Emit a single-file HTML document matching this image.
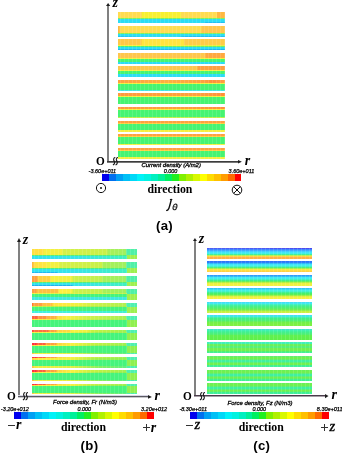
<!DOCTYPE html>
<html><head><meta charset="utf-8"><style>
html,body{margin:0;padding:0;background:#fff;}
body{width:342px;height:454px;position:relative;overflow:hidden;font-family:"Liberation Sans",sans-serif;}
body>div,body>svg{position:absolute;}
#wrap{position:absolute;left:0;top:0;width:342px;height:454px;background:#fff;will-change:transform;}
#wrap>div,#wrap>svg{position:absolute;}
</style></head><body><div id="wrap">
<div style="left:118.3px;top:12.0px;width:106.6px;height:11.0px;overflow:hidden"><div style="position:absolute;left:0;top:0px;width:106.6px;height:6.4px;background:linear-gradient(to right,#ffdc50 0px,#ffdc50 24px,#f8f030 24.5px,#f8f030 63px,#ffdc50 63.5px,#ffdc50 98.5px,#ffb840 99px)"></div><div style="position:absolute;left:0;top:6.4px;width:106.6px;height:1.0px;background:#80f060"></div><div style="position:absolute;left:0;top:7.4px;width:106.6px;height:2.5999999999999996px;background:#2cdcf4"></div><div style="position:absolute;left:0;top:10px;width:106.6px;height:1px;background:linear-gradient(to right,#2cdcf4 0px,#2cdcf4 85px,#20c0f2 88px)"></div><div style="position:absolute;left:0;top:0;width:106.6px;height:11.0px;background:repeating-linear-gradient(to right, rgba(255,255,255,0) 0px, rgba(255,255,255,0) 2.3px, rgba(255,255,255,0.12) 2.3px, rgba(255,255,255,0.12) 3.3px, rgba(255,255,255,0) 3.3px, rgba(255,255,255,0) 3.97px)"></div></div>
<div style="left:118.3px;top:25.6px;width:106.6px;height:11.0px;overflow:hidden"><div style="position:absolute;left:0;top:0px;width:106.6px;height:7.0px;background:linear-gradient(to right,#ffb040 0px,#ffdc50 3px,#ffdc50 83px,#ffc64c 84px)"></div><div style="position:absolute;left:0;top:7.0px;width:106.6px;height:1.0px;background:#80f060"></div><div style="position:absolute;left:0;top:8.0px;width:106.6px;height:2.0px;background:#2cdcf4"></div><div style="position:absolute;left:0;top:10px;width:106.6px;height:1px;background:linear-gradient(to right,#20c0f2 0px,#2cdcf4 30px,#2cdcf4 60px,#20c0f2 66px)"></div><div style="position:absolute;left:0;top:0;width:106.6px;height:11.0px;background:repeating-linear-gradient(to right, rgba(255,255,255,0) 0px, rgba(255,255,255,0) 2.3px, rgba(255,255,255,0.12) 2.3px, rgba(255,255,255,0.12) 3.3px, rgba(255,255,255,0) 3.3px, rgba(255,255,255,0) 3.97px)"></div></div>
<div style="left:118.3px;top:39.3px;width:106.6px;height:11.0px;overflow:hidden"><div style="position:absolute;left:0;top:0px;width:106.6px;height:5.7px;background:linear-gradient(to right,#ffc848 0px,#ffc848 23px,#ffe440 24.5px,#ffe440 66px,#ffcc48 66.5px)"></div><div style="position:absolute;left:0;top:5.7px;width:106.6px;height:0.8999999999999995px;background:linear-gradient(to right,#f8f040 0px,#f8f040 60px,#e8f040 80px)"></div><div style="position:absolute;left:0;top:6.6px;width:106.6px;height:1.3000000000000007px;background:linear-gradient(to right,#40f080 0px,#50f070 30px,#70f060 60px)"></div><div style="position:absolute;left:0;top:7.9px;width:106.6px;height:1.799999999999999px;background:#2cdcf4"></div><div style="position:absolute;left:0;top:9.7px;width:106.6px;height:1.3000000000000007px;background:linear-gradient(to right,#20b4f4 0px,#20b8f4 60px,#20b0f0 106.6px)"></div><div style="position:absolute;left:0;top:0;width:106.6px;height:11.0px;background:repeating-linear-gradient(to right, rgba(255,255,255,0) 0px, rgba(255,255,255,0) 2.3px, rgba(255,255,255,0.12) 2.3px, rgba(255,255,255,0.12) 3.3px, rgba(255,255,255,0) 3.3px, rgba(255,255,255,0) 3.97px)"></div></div>
<div style="left:118.3px;top:52.8px;width:106.6px;height:11.0px;overflow:hidden"><div style="position:absolute;left:0;top:0px;width:106.6px;height:5.0px;background:linear-gradient(to right,#ffc64c 0px,#ffc64c 87px,#ffa840 88px)"></div><div style="position:absolute;left:0;top:5.0px;width:106.6px;height:1.0px;background:#f4f040"></div><div style="position:absolute;left:0;top:6.0px;width:106.6px;height:3.0px;background:#46f472"></div><div style="position:absolute;left:0;top:9.0px;width:106.6px;height:2.0px;background:#2cdcf4"></div><div style="position:absolute;left:0;top:0;width:106.6px;height:11.0px;background:repeating-linear-gradient(to right, rgba(255,255,255,0) 0px, rgba(255,255,255,0) 2.3px, rgba(255,255,255,0.12) 2.3px, rgba(255,255,255,0.12) 3.3px, rgba(255,255,255,0) 3.3px, rgba(255,255,255,0) 3.97px)"></div></div>
<div style="left:118.3px;top:66.1px;width:106.6px;height:11.0px;overflow:hidden"><div style="position:absolute;left:0;top:0px;width:106.6px;height:4.4px;background:linear-gradient(to right,#ffc64c 0px,#ffc64c 79px,#ffa040 80px)"></div><div style="position:absolute;left:0;top:4.4px;width:106.6px;height:1.0px;background:#f4f040"></div><div style="position:absolute;left:0;top:5.4px;width:106.6px;height:2.799999999999999px;background:#46f472"></div><div style="position:absolute;left:0;top:8.2px;width:106.6px;height:2.8000000000000007px;background:#2cdcf4"></div><div style="position:absolute;left:0;top:0;width:106.6px;height:11.0px;background:repeating-linear-gradient(to right, rgba(255,255,255,0) 0px, rgba(255,255,255,0) 2.3px, rgba(255,255,255,0.12) 2.3px, rgba(255,255,255,0.12) 3.3px, rgba(255,255,255,0) 3.3px, rgba(255,255,255,0) 3.97px)"></div></div>
<div style="left:118.3px;top:79.85px;width:106.6px;height:11.0px;overflow:hidden"><div style="position:absolute;left:0;top:0px;width:106.6px;height:3.6px;background:linear-gradient(to right,#ffa040 0px,#ffb040 50px,#ffa040 86px,#ff9038 94px,#ffa040 106.6px)"></div><div style="position:absolute;left:0;top:3.6px;width:106.6px;height:0.9999999999999996px;background:#f4f040"></div><div style="position:absolute;left:0;top:4.6px;width:106.6px;height:5.6px;background:#46f472"></div><div style="position:absolute;left:0;top:10.2px;width:106.6px;height:0.8000000000000007px;background:#40e8e0"></div><div style="position:absolute;left:0;top:0;width:106.6px;height:11.0px;background:repeating-linear-gradient(to right, rgba(255,255,255,0) 0px, rgba(255,255,255,0) 2.3px, rgba(255,255,255,0.12) 2.3px, rgba(255,255,255,0.12) 3.3px, rgba(255,255,255,0) 3.3px, rgba(255,255,255,0) 3.97px)"></div></div>
<div style="left:118.3px;top:93.4px;width:106.6px;height:11.0px;overflow:hidden"><div style="position:absolute;left:0;top:0px;width:106.6px;height:2.8px;background:linear-gradient(to right,#ff9a40 0px,#ffa038 50px,#ffa040 80px,#ff9038 106.6px)"></div><div style="position:absolute;left:0;top:2.8px;width:106.6px;height:1.0px;background:#f4f040"></div><div style="position:absolute;left:0;top:3.8px;width:106.6px;height:6.500000000000001px;background:#46f472"></div><div style="position:absolute;left:0;top:10.3px;width:106.6px;height:0.6999999999999993px;background:#a0f050"></div><div style="position:absolute;left:0;top:0;width:106.6px;height:11.0px;background:repeating-linear-gradient(to right, rgba(255,255,255,0) 0px, rgba(255,255,255,0) 2.3px, rgba(255,255,255,0.12) 2.3px, rgba(255,255,255,0.12) 3.3px, rgba(255,255,255,0) 3.3px, rgba(255,255,255,0) 3.97px)"></div></div>
<div style="left:118.3px;top:107.15px;width:106.6px;height:11.0px;overflow:hidden"><div style="position:absolute;left:0;top:0px;width:106.6px;height:2.2px;background:linear-gradient(to right,#ff9a40 0px,#ffa038 60px,#ff9038 106.6px)"></div><div style="position:absolute;left:0;top:2.2px;width:106.6px;height:1.0px;background:#f4f040"></div><div style="position:absolute;left:0;top:3.2px;width:106.6px;height:6.7px;background:#46f472"></div><div style="position:absolute;left:0;top:9.9px;width:106.6px;height:1.0999999999999996px;background:#c0f048"></div><div style="position:absolute;left:0;top:0;width:106.6px;height:11.0px;background:repeating-linear-gradient(to right, rgba(255,255,255,0) 0px, rgba(255,255,255,0) 2.3px, rgba(255,255,255,0.12) 2.3px, rgba(255,255,255,0.12) 3.3px, rgba(255,255,255,0) 3.3px, rgba(255,255,255,0) 3.97px)"></div></div>
<div style="left:118.3px;top:120.9px;width:106.6px;height:11.0px;overflow:hidden"><div style="position:absolute;left:0;top:0px;width:106.6px;height:2.0px;background:#ffa040"></div><div style="position:absolute;left:0;top:2.0px;width:106.6px;height:1.0px;background:#ffd040"></div><div style="position:absolute;left:0;top:3.0px;width:106.6px;height:6.6px;background:#46f472"></div><div style="position:absolute;left:0;top:9.6px;width:106.6px;height:1.4000000000000004px;background:#f4f040"></div><div style="position:absolute;left:0;top:0;width:106.6px;height:11.0px;background:repeating-linear-gradient(to right, rgba(255,255,255,0) 0px, rgba(255,255,255,0) 2.3px, rgba(255,255,255,0.12) 2.3px, rgba(255,255,255,0.12) 3.3px, rgba(255,255,255,0) 3.3px, rgba(255,255,255,0) 3.97px)"></div></div>
<div style="left:118.3px;top:134.35px;width:106.6px;height:11.0px;overflow:hidden"><div style="position:absolute;left:0;top:0px;width:106.6px;height:1.8px;background:#ffa040"></div><div style="position:absolute;left:0;top:1.8px;width:106.6px;height:0.9999999999999998px;background:#ffd040"></div><div style="position:absolute;left:0;top:2.8px;width:106.6px;height:6.3999999999999995px;background:#46f472"></div><div style="position:absolute;left:0;top:9.2px;width:106.6px;height:1.4000000000000004px;background:#f4f040"></div><div style="position:absolute;left:0;top:0;width:106.6px;height:11.0px;background:repeating-linear-gradient(to right, rgba(255,255,255,0) 0px, rgba(255,255,255,0) 2.3px, rgba(255,255,255,0.12) 2.3px, rgba(255,255,255,0.12) 3.3px, rgba(255,255,255,0) 3.3px, rgba(255,255,255,0) 3.97px)"></div></div>
<div style="left:118.3px;top:147.6px;width:106.6px;height:11.0px;overflow:hidden"><div style="position:absolute;left:0;top:0px;width:106.6px;height:2.0px;background:#ffa040"></div><div style="position:absolute;left:0;top:2.0px;width:106.6px;height:1.0px;background:#ffd040"></div><div style="position:absolute;left:0;top:3.0px;width:106.6px;height:6.6px;background:#46f472"></div><div style="position:absolute;left:0;top:9.6px;width:106.6px;height:1.4000000000000004px;background:#f4f040"></div><div style="position:absolute;left:0;top:0;width:106.6px;height:11.0px;background:repeating-linear-gradient(to right, rgba(255,255,255,0) 0px, rgba(255,255,255,0) 2.3px, rgba(255,255,255,0.12) 2.3px, rgba(255,255,255,0.12) 3.3px, rgba(255,255,255,0) 3.3px, rgba(255,255,255,0) 3.97px)"></div></div>
<div style="left:107px;top:5.5px;width:2px;height:156.5px;background:#808080"></div>
<svg style="left:104.80000000000001px;top:1.9px" width="6.2" height="5.0" viewBox="104.80000000000001 1.9 6.2 5.0"><polygon points="107.9,2.9 110.0,5.9 105.80000000000001,5.9" fill="#1e1e1e"/></svg>
<div style="left:107px;top:161px;width:131.4px;height:1px;background:#3c3c3c"></div>
<div style="left:107px;top:162px;width:131.4px;height:1px;background:#767676"></div>
<svg style="left:237.4px;top:158.85px" width="5.900000000000006" height="5.6" viewBox="237.4 158.85 5.900000000000006 5.6"><polygon points="238.4,159.85 242.3,161.65 238.4,163.45000000000002" fill="#1e1e1e"/></svg>
<svg style="left:112.2px;top:157.4px" width="7" height="9" viewBox="0 0 7 9"><path d="M3.3 0.5 C1.5 0.7 1.3 2.7 2.1 3.9 C2.9 5.1 2.9 7.3 0.9 7.9" fill="none" stroke="#1a1a1a" stroke-width="1.1"/><path d="M3.3 0.5 C1.5 0.7 1.3 2.7 2.1 3.9 C2.9 5.1 2.9 7.3 0.9 7.9" transform="translate(2.7 0)" fill="none" stroke="#1a1a1a" stroke-width="1.1"/></svg>
<div style="left:96.2px;top:155.4px;font-family:&quot;Liberation Serif&quot;,serif;font-size:12.5px;font-weight:bold;font-style:normal;color:#000;white-space:nowrap;line-height:1;transform:scaleX(0.9);transform-origin:0 0">O</div>
<div style="left:112.6px;top:-4.1px;font-family:&quot;Liberation Serif&quot;,serif;font-size:14px;font-weight:bold;font-style:italic;color:#000;white-space:nowrap;line-height:1;">z</div>
<div style="left:244.8px;top:154.0px;font-family:&quot;Liberation Serif&quot;,serif;font-size:14px;font-weight:bold;font-style:italic;color:#000;white-space:nowrap;line-height:1;">r</div>
<div style="left:101.9px;top:174.4px;width:139.5px;height:6.8px;background:linear-gradient(to right,#0000ee 0.00px 6.97px,#0070f0 6.97px 13.95px,#00a0f4 13.95px 20.92px,#00c0f6 20.92px 27.90px,#00d8f8 27.90px 34.88px,#00f2f8 34.88px 41.85px,#00f2e0 41.85px 48.82px,#00f0c0 48.82px 55.80px,#00f098 55.80px 62.77px,#00f060 62.77px 69.75px,#20f020 69.75px 76.72px,#80f000 76.72px 83.70px,#b0f000 83.70px 90.67px,#d8f800 90.67px 97.65px,#ffff00 97.65px 104.62px,#ffdc00 104.62px 111.60px,#ffc000 111.60px 118.57px,#ff9c00 118.57px 125.55px,#ff6a00 125.55px 132.53px,#ff0000 132.53px 139.50px)"></div>
<div style="left:141.6px;top:163.0px;font-family:&quot;Liberation Sans&quot;,sans-serif;font-size:5.9px;font-weight:normal;font-style:italic;color:#000;white-space:nowrap;line-height:1;-webkit-text-stroke:0.3px #000">Current density (A/m2)</div>
<div style="left:163.8px;top:168.9px;font-family:&quot;Liberation Sans&quot;,sans-serif;font-size:5.4px;font-weight:normal;font-style:italic;color:#000;white-space:nowrap;line-height:1;-webkit-text-stroke:0.25px #000">0.000</div>
<div style="left:88.6px;top:169.3px;font-family:&quot;Liberation Sans&quot;,sans-serif;font-size:5.5px;font-weight:normal;font-style:italic;color:#000;white-space:nowrap;line-height:1;-webkit-text-stroke:0.25px #000">-3.60e+011</div>
<div style="left:228.6px;top:168.6px;font-family:&quot;Liberation Sans&quot;,sans-serif;font-size:5.5px;font-weight:normal;font-style:italic;color:#000;white-space:nowrap;line-height:1;-webkit-text-stroke:0.25px #000">3.60e+011</div>
<svg style="left:94.9px;top:182.2px" width="12" height="12" viewBox="0 0 12 12"><circle cx="6" cy="6" r="4.6" fill="none" stroke="#111" stroke-width="1"/><circle cx="6" cy="6" r="1" fill="#111"/></svg>
<svg style="left:231.3px;top:183.8px" width="12" height="12" viewBox="0 0 12 12"><circle cx="6" cy="6" r="4.8" fill="none" stroke="#111" stroke-width="1"/><path d="M2.6 2.6 L9.4 9.4 M9.4 2.6 L2.6 9.4" stroke="#111" stroke-width="1"/></svg>
<div style="left:147.4px;top:184.1px;font-family:&quot;Liberation Serif&quot;,serif;font-size:11.8px;font-weight:bold;font-style:normal;color:#000;white-space:nowrap;line-height:1;">direction</div>
<svg style="left:164px;top:197px" width="16" height="16" viewBox="164 197 16 16"><path d="M171.3 199.6 C170.4 203.2 169.6 206.6 168.8 208.5 C168.2 209.9 167.5 210.5 166.7 210.4" fill="none" stroke="#111" stroke-width="1.45" stroke-linecap="round"/><path d="M169.9 199.5 L172.3 199.5" stroke="#111" stroke-width="1.1"/><ellipse cx="175" cy="206.9" rx="1.8" ry="2.9" transform="rotate(18 175 206.9)" fill="none" stroke="#222" stroke-width="1.1"/><path d="M173.5 206.6 L176.5 207.2" stroke="#222" stroke-width="0.8"/></svg>
<div style="left:156.0px;top:219.2px;font-family:&quot;Liberation Sans&quot;,sans-serif;font-size:13.2px;font-weight:bold;font-style:normal;color:#000;white-space:nowrap;line-height:1;letter-spacing:0.3px">(a)</div>
<div style="left:31.6px;top:248.7px;width:105.0px;height:10.8px;overflow:hidden"><div style="position:absolute;left:0;top:0px;width:105.0px;height:6.3px;background:linear-gradient(to right,#ffe040 0px,#ffe040 11px,#f4f040 12px,#f0f040 30px,#d4f048 31px,#c8f048 75px,#a8f058 76px,#a0f060 94.1px,#50f0a8 94.6px,#50f0a8 105.0px)"></div><div style="position:absolute;left:0;top:6.3px;width:105.0px;height:1.0px;background:linear-gradient(to right,#50f080 0px,#50f080 94.6px,#a0f050 94.6px)"></div><div style="position:absolute;left:0;top:7.3px;width:105.0px;height:3.500000000000001px;background:linear-gradient(to right,#30e0f0 0px,#38e4e8 45px,#40f0c0 94.6px,#a0f050 94.6px)"></div><div style="position:absolute;left:0;top:0;width:105.0px;height:10.8px;background:repeating-linear-gradient(to right, rgba(255,255,255,0) 0px, rgba(255,255,255,0) 2.3px, rgba(255,255,255,0.12) 2.3px, rgba(255,255,255,0.12) 3.3px, rgba(255,255,255,0) 3.3px, rgba(255,255,255,0) 3.97px)"></div></div>
<div style="left:31.6px;top:262.0px;width:105.0px;height:10.8px;overflow:hidden"><div style="position:absolute;left:0;top:0px;width:105.0px;height:6.3px;background:linear-gradient(to right,#ffb040 0px,#ffe040 3px,#ffe840 14px,#f4f040 15px,#f4f040 27px,#d8f048 28px,#c8f048 70px,#a8f058 71px,#a0f060 94.1px,#50f0a8 94.6px,#50f0a8 105.0px)"></div><div style="position:absolute;left:0;top:6.3px;width:105.0px;height:1.0px;background:linear-gradient(to right,#50f080 0px,#50f080 94.6px,#a0f050 94.6px)"></div><div style="position:absolute;left:0;top:7.3px;width:105.0px;height:2.500000000000001px;background:linear-gradient(to right,#30e0f0 0px,#38e4e8 45px,#40f0c0 94.6px,#a0f050 94.6px)"></div><div style="position:absolute;left:0;top:9.8px;width:105.0px;height:1.0px;background:linear-gradient(to right,#20b8f0 0px,#20b8f0 25px,#30e0f0 26px,#38e4e8 45px,#40f0c0 94.6px,#a0f050 94.6px)"></div><div style="position:absolute;left:0;top:0;width:105.0px;height:10.8px;background:repeating-linear-gradient(to right, rgba(255,255,255,0) 0px, rgba(255,255,255,0) 2.3px, rgba(255,255,255,0.12) 2.3px, rgba(255,255,255,0.12) 3.3px, rgba(255,255,255,0) 3.3px, rgba(255,255,255,0) 3.97px)"></div></div>
<div style="left:31.6px;top:275.6px;width:105.0px;height:10.8px;overflow:hidden"><div style="position:absolute;left:0;top:0px;width:105.0px;height:6.0px;background:linear-gradient(to right,#ffa040 0px,#ffa040 5px,#ffd040 6px,#ffd040 18px,#f8f040 19px,#f0f040 40px,#d0f048 41px,#c0f050 70px,#a8f058 71px,#a0f060 94.1px,#50f0a8 94.6px,#50f0a8 105.0px)"></div><div style="position:absolute;left:0;top:6.0px;width:105.0px;height:1.0px;background:linear-gradient(to right,#50f080 0px,#50f080 94.6px,#a0f050 94.6px)"></div><div style="position:absolute;left:0;top:7.0px;width:105.0px;height:2.5999999999999996px;background:linear-gradient(to right,#30e0f0 0px,#38e4e8 45px,#40f0c0 94.6px,#a0f050 94.6px)"></div><div style="position:absolute;left:0;top:9.6px;width:105.0px;height:1.200000000000001px;background:linear-gradient(to right,#20b0f0 0px,#20b0f0 40px,#30e0f0 41px,#38e4e8 60px,#40f0c0 94.6px,#a0f050 94.6px)"></div><div style="position:absolute;left:0;top:0;width:105.0px;height:10.8px;background:repeating-linear-gradient(to right, rgba(255,255,255,0) 0px, rgba(255,255,255,0) 2.3px, rgba(255,255,255,0.12) 2.3px, rgba(255,255,255,0.12) 3.3px, rgba(255,255,255,0) 3.3px, rgba(255,255,255,0) 3.97px)"></div></div>
<div style="left:31.6px;top:289.2px;width:105.0px;height:10.8px;overflow:hidden"><div style="position:absolute;left:0;top:0px;width:105.0px;height:4.2px;background:linear-gradient(to right,#ffa040 0px,#ffa040 4px,#ffc040 5px,#ffc040 26px,#fff040 27px,#f8f040 40px,#d0f048 41px,#c0f050 70px,#a8f058 71px,#a0f060 94.1px,#50f0a8 94.6px,#50f0a8 105.0px)"></div><div style="position:absolute;left:0;top:4.2px;width:105.0px;height:0.7999999999999998px;background:linear-gradient(to right,#f0f040 0px,#c0f050 94.6px,#50f0a8 94.6px)"></div><div style="position:absolute;left:0;top:5.0px;width:105.0px;height:3.1999999999999993px;background:linear-gradient(to right,#46f47c 0px,#46f47c 94.6px,#a0f050 94.6px)"></div><div style="position:absolute;left:0;top:8.2px;width:105.0px;height:2.6000000000000014px;background:linear-gradient(to right,#40e8e0 0px,#40e8e0 94.6px,#a0f050 94.6px)"></div><div style="position:absolute;left:0;top:0;width:105.0px;height:10.8px;background:repeating-linear-gradient(to right, rgba(255,255,255,0) 0px, rgba(255,255,255,0) 2.3px, rgba(255,255,255,0.12) 2.3px, rgba(255,255,255,0.12) 3.3px, rgba(255,255,255,0) 3.3px, rgba(255,255,255,0) 3.97px)"></div></div>
<div style="left:31.6px;top:302.5px;width:105.0px;height:10.8px;overflow:hidden"><div style="position:absolute;left:0;top:0px;width:105.0px;height:3.8px;background:linear-gradient(to right,#ff6030 0px,#ffa040 1.5px,#ffa040 10px,#ffc040 11px,#ffc040 20px,#ffe040 21px,#ffe840 30px,#f0f040 45px,#d0f048 60px,#b0f050 94.1px,#50f0b0 94.6px,#50f0b0 105.0px)"></div><div style="position:absolute;left:0;top:3.8px;width:105.0px;height:0.9000000000000004px;background:linear-gradient(to right,#c0f040 0px,#a0f050 94.6px,#50f0b0 94.6px,#50f0b0 105.0px)"></div><div style="position:absolute;left:0;top:4.7px;width:105.0px;height:3.999999999999999px;background:linear-gradient(to right,#46f47c 0px,#46f47c 94.6px,#a0f050 94.6px,#a0f050 105.0px)"></div><div style="position:absolute;left:0;top:8.7px;width:105.0px;height:2.1000000000000014px;background:linear-gradient(to right,#40f0e0 0px,#40f0d0 94.6px,#a0f050 94.6px,#a0f050 105.0px)"></div><div style="position:absolute;left:0;top:0;width:105.0px;height:10.8px;background:repeating-linear-gradient(to right, rgba(255,255,255,0) 0px, rgba(255,255,255,0) 2.3px, rgba(255,255,255,0.12) 2.3px, rgba(255,255,255,0.12) 3.3px, rgba(255,255,255,0) 3.3px, rgba(255,255,255,0) 3.97px)"></div></div>
<div style="left:31.6px;top:316.1px;width:105.0px;height:10.8px;overflow:hidden"><div style="position:absolute;left:0;top:0px;width:105.0px;height:2.6px;background:linear-gradient(to right,#ff6040 0px,#ff6040 5px,#ff9040 6px,#ff9040 14px,#ffb040 15px,#ffb040 24px,#ffd840 25px,#f8f040 35px,#d0f048 55px,#a8f050 94.1px,#50f0b0 94.6px,#50f0b0 105.0px)"></div><div style="position:absolute;left:0;top:2.6px;width:105.0px;height:1.1px;background:linear-gradient(to right,#f0f040 0px,#e0f040 40px,#b0f050 70px,#a0f050 94.6px,#50f0b0 94.6px,#50f0b0 105.0px)"></div><div style="position:absolute;left:0;top:3.7px;width:105.0px;height:7.1000000000000005px;background:linear-gradient(to right,#46f47c 0px,#46f47c 94.6px,#90f050 94.6px,#90f050 105.0px)"></div><div style="position:absolute;left:0;top:0;width:105.0px;height:10.8px;background:repeating-linear-gradient(to right, rgba(255,255,255,0) 0px, rgba(255,255,255,0) 2.3px, rgba(255,255,255,0.12) 2.3px, rgba(255,255,255,0.12) 3.3px, rgba(255,255,255,0) 3.3px, rgba(255,255,255,0) 3.97px)"></div></div>
<div style="left:31.6px;top:329.6px;width:105.0px;height:10.8px;overflow:hidden"><div style="position:absolute;left:0;top:0px;width:105.0px;height:2.0px;background:linear-gradient(to right,#ff4040 0px,#ff7040 2.5px,#ff7040 16px,#ffa040 17px,#ffa040 24px,#ffd040 25px,#ffd840 38px,#f8f040 40px,#f0f040 55px,#c8f040 60px,#a0f050 94.1px,#50f0b0 94.6px,#50f0b0 105.0px)"></div><div style="position:absolute;left:0;top:2.0px;width:105.0px;height:1.1px;background:linear-gradient(to right,#f0f040 0px,#f8f040 30px,#d0f040 55px,#a0f050 65px,#a0f050 94.6px,#50f0b0 94.6px,#50f0b0 105.0px)"></div><div style="position:absolute;left:0;top:3.1px;width:105.0px;height:7.0px;background:linear-gradient(to right,#46f47c 0px,#46f47c 94.6px,#90f050 94.6px,#90f050 105.0px)"></div><div style="position:absolute;left:0;top:10.1px;width:105.0px;height:0.7000000000000011px;background:linear-gradient(to right,#80f060 0px,#60f070 94.6px,#90f050 94.6px,#90f050 105.0px)"></div><div style="position:absolute;left:0;top:0;width:105.0px;height:10.8px;background:repeating-linear-gradient(to right, rgba(255,255,255,0) 0px, rgba(255,255,255,0) 2.3px, rgba(255,255,255,0.12) 2.3px, rgba(255,255,255,0.12) 3.3px, rgba(255,255,255,0) 3.3px, rgba(255,255,255,0) 3.97px)"></div></div>
<div style="left:31.6px;top:343.2px;width:105.0px;height:10.8px;overflow:hidden"><div style="position:absolute;left:0;top:0px;width:105.0px;height:1.6px;background:linear-gradient(to right,#ff3040 0px,#ff3040 4px,#ff6040 5px,#ff6040 13px,#ffa040 14px,#ffa040 24px,#ffd040 25px,#f8f040 40px,#c8f040 60px,#a0f050 94.1px,#50f0b0 94.6px,#50f0b0 105.0px)"></div><div style="position:absolute;left:0;top:1.6px;width:105.0px;height:1.1999999999999997px;background:linear-gradient(to right,#ffd040 0px,#f8f040 8px,#f0f040 40px,#a0f050 65px,#90f050 94.6px,#50f0b0 94.6px,#50f0b0 105.0px)"></div><div style="position:absolute;left:0;top:2.8px;width:105.0px;height:6.6000000000000005px;background:linear-gradient(to right,#46f47c 0px,#46f47c 94.6px,#90f050 94.6px,#90f050 105.0px)"></div><div style="position:absolute;left:0;top:9.4px;width:105.0px;height:1.4000000000000004px;background:linear-gradient(to right,#ffc040 0px,#f0f040 4px,#e0f040 40px,#80f060 70px,#60f080 94.6px,#50f0b0 94.6px,#50f0b0 105.0px)"></div><div style="position:absolute;left:0;top:0;width:105.0px;height:10.8px;background:repeating-linear-gradient(to right, rgba(255,255,255,0) 0px, rgba(255,255,255,0) 2.3px, rgba(255,255,255,0.12) 2.3px, rgba(255,255,255,0.12) 3.3px, rgba(255,255,255,0) 3.3px, rgba(255,255,255,0) 3.97px)"></div></div>
<div style="left:31.6px;top:356.75px;width:105.0px;height:10.8px;overflow:hidden"><div style="position:absolute;left:0;top:0px;width:105.0px;height:1.6px;background:linear-gradient(to right,#ff3040 0px,#ff3040 4px,#ff6040 5px,#ff6040 13px,#ffa040 14px,#ffa040 24px,#ffd040 25px,#f8f040 40px,#c8f040 60px,#a0f050 94.1px,#50f0b0 94.6px,#50f0b0 105.0px)"></div><div style="position:absolute;left:0;top:1.6px;width:105.0px;height:1.1999999999999997px;background:linear-gradient(to right,#ffd040 0px,#f8f040 8px,#f0f040 40px,#a0f050 65px,#90f050 94.6px,#50f0b0 94.6px,#50f0b0 105.0px)"></div><div style="position:absolute;left:0;top:2.8px;width:105.0px;height:6.6000000000000005px;background:linear-gradient(to right,#46f47c 0px,#46f47c 94.6px,#90f050 94.6px,#90f050 105.0px)"></div><div style="position:absolute;left:0;top:9.4px;width:105.0px;height:1.4000000000000004px;background:linear-gradient(to right,#ffc040 0px,#f0f040 4px,#e0f040 40px,#80f060 70px,#60f080 94.6px,#50f0b0 94.6px,#50f0b0 105.0px)"></div><div style="position:absolute;left:0;top:0;width:105.0px;height:10.8px;background:repeating-linear-gradient(to right, rgba(255,255,255,0) 0px, rgba(255,255,255,0) 2.3px, rgba(255,255,255,0.12) 2.3px, rgba(255,255,255,0.12) 3.3px, rgba(255,255,255,0) 3.3px, rgba(255,255,255,0) 3.97px)"></div></div>
<div style="left:31.6px;top:370.2px;width:105.0px;height:10.8px;overflow:hidden"><div style="position:absolute;left:0;top:0px;width:105.0px;height:1.6px;background:linear-gradient(to right,#ff3040 0px,#ff3040 4px,#ff6040 5px,#ff6040 13px,#ffa040 14px,#ffa040 24px,#ffd040 25px,#f8f040 40px,#c8f040 60px,#a0f050 94.1px,#50f0b0 94.6px,#50f0b0 105.0px)"></div><div style="position:absolute;left:0;top:1.6px;width:105.0px;height:1.1999999999999997px;background:linear-gradient(to right,#ffd040 0px,#f8f040 8px,#f0f040 40px,#a0f050 65px,#90f050 94.6px,#50f0b0 94.6px,#50f0b0 105.0px)"></div><div style="position:absolute;left:0;top:2.8px;width:105.0px;height:6.6000000000000005px;background:linear-gradient(to right,#46f47c 0px,#46f47c 94.6px,#90f050 94.6px,#90f050 105.0px)"></div><div style="position:absolute;left:0;top:9.4px;width:105.0px;height:1.4000000000000004px;background:linear-gradient(to right,#ffc040 0px,#f0f040 4px,#e0f040 40px,#80f060 70px,#60f080 94.6px,#50f0b0 94.6px,#50f0b0 105.0px)"></div><div style="position:absolute;left:0;top:0;width:105.0px;height:10.8px;background:repeating-linear-gradient(to right, rgba(255,255,255,0) 0px, rgba(255,255,255,0) 2.3px, rgba(255,255,255,0.12) 2.3px, rgba(255,255,255,0.12) 3.3px, rgba(255,255,255,0) 3.3px, rgba(255,255,255,0) 3.97px)"></div></div>
<div style="left:31.6px;top:383.5px;width:105.0px;height:10.8px;overflow:hidden"><div style="position:absolute;left:0;top:0px;width:105.0px;height:1.6px;background:linear-gradient(to right,#ff3040 0px,#ff3040 4px,#ff6040 5px,#ff6040 13px,#ffa040 14px,#ffa040 24px,#ffd040 25px,#f8f040 40px,#c8f040 60px,#a0f050 94.1px,#50f0b0 94.6px,#50f0b0 105.0px)"></div><div style="position:absolute;left:0;top:1.6px;width:105.0px;height:1.1999999999999997px;background:linear-gradient(to right,#ffd040 0px,#f8f040 8px,#f0f040 40px,#a0f050 65px,#90f050 94.6px,#50f0b0 94.6px,#50f0b0 105.0px)"></div><div style="position:absolute;left:0;top:2.8px;width:105.0px;height:6.6000000000000005px;background:linear-gradient(to right,#46f47c 0px,#46f47c 94.6px,#90f050 94.6px,#90f050 105.0px)"></div><div style="position:absolute;left:0;top:9.4px;width:105.0px;height:1.4000000000000004px;background:linear-gradient(to right,#ffc040 0px,#f0f040 4px,#e0f040 40px,#80f060 70px,#60f080 94.6px,#50f0b0 94.6px,#50f0b0 105.0px)"></div><div style="position:absolute;left:0;top:0;width:105.0px;height:10.8px;background:repeating-linear-gradient(to right, rgba(255,255,255,0) 0px, rgba(255,255,255,0) 2.3px, rgba(255,255,255,0.12) 2.3px, rgba(255,255,255,0.12) 3.3px, rgba(255,255,255,0) 3.3px, rgba(255,255,255,0) 3.97px)"></div></div>
<div style="left:18px;top:241.6px;width:2px;height:154.9px;background:#808080"></div>
<svg style="left:16.0px;top:237.1px" width="6.0" height="5.900000000000006" viewBox="16.0 237.1 6.0 5.900000000000006"><polygon points="19.0,238.1 21.0,242.0 17.0,242.0" fill="#1e1e1e"/></svg>
<div style="left:18px;top:395px;width:130.4px;height:1px;background:#d8d6e4"></div>
<div style="left:18px;top:396px;width:130.4px;height:1px;background:#5a5a62"></div>
<div style="left:18px;top:397px;width:130.4px;height:1px;background:#c8c8cc"></div>
<svg style="left:147.4px;top:393.5px" width="5.900000000000006" height="5.8" viewBox="147.4 393.5 5.900000000000006 5.8"><polygon points="148.4,394.5 152.3,396.4 148.4,398.29999999999995" fill="#1e1e1e"/></svg>
<svg style="left:22.3px;top:392.2px" width="7" height="9" viewBox="0 0 7 9"><path d="M3.3 0.5 C1.5 0.7 1.3 2.7 2.1 3.9 C2.9 5.1 2.9 7.3 0.9 7.9" fill="none" stroke="#1a1a1a" stroke-width="1.1"/><path d="M3.3 0.5 C1.5 0.7 1.3 2.7 2.1 3.9 C2.9 5.1 2.9 7.3 0.9 7.9" transform="translate(2.7 0)" fill="none" stroke="#1a1a1a" stroke-width="1.1"/></svg>
<div style="left:7.2px;top:390.2px;font-family:&quot;Liberation Serif&quot;,serif;font-size:12.5px;font-weight:bold;font-style:normal;color:#000;white-space:nowrap;line-height:1;transform:scaleX(0.9);transform-origin:0 0">O</div>
<div style="left:22.7px;top:232.6px;font-family:&quot;Liberation Serif&quot;,serif;font-size:14px;font-weight:bold;font-style:italic;color:#000;white-space:nowrap;line-height:1;">z</div>
<div style="left:154.6px;top:388.6px;font-family:&quot;Liberation Serif&quot;,serif;font-size:14px;font-weight:bold;font-style:italic;color:#000;white-space:nowrap;line-height:1;">r</div>
<div style="left:14.0px;top:412.2px;width:140px;height:6.5px;background:linear-gradient(to right,#0000ee 0.00px 7.00px,#0070f0 7.00px 14.00px,#00a0f4 14.00px 21.00px,#00c0f6 21.00px 28.00px,#00d8f8 28.00px 35.00px,#00f2f8 35.00px 42.00px,#00f2e0 42.00px 49.00px,#00f0c0 49.00px 56.00px,#00f098 56.00px 63.00px,#00f060 63.00px 70.00px,#20f020 70.00px 77.00px,#80f000 77.00px 84.00px,#b0f000 84.00px 91.00px,#d8f800 91.00px 98.00px,#ffff00 98.00px 105.00px,#ffdc00 105.00px 112.00px,#ffc000 112.00px 119.00px,#ff9c00 119.00px 126.00px,#ff6a00 126.00px 133.00px,#ff0000 133.00px 140.00px)"></div>
<div style="left:53.0px;top:400.4px;font-family:&quot;Liberation Sans&quot;,sans-serif;font-size:5.95px;font-weight:normal;font-style:italic;color:#000;white-space:nowrap;line-height:1;-webkit-text-stroke:0.3px #000">Force density, Fr (N/m3)</div>
<div style="left:77.4px;top:406.9px;font-family:&quot;Liberation Sans&quot;,sans-serif;font-size:5.4px;font-weight:normal;font-style:italic;color:#000;white-space:nowrap;line-height:1;-webkit-text-stroke:0.25px #000">0.000</div>
<div style="left:0.8px;top:406.8px;font-family:&quot;Liberation Sans&quot;,sans-serif;font-size:5.5px;font-weight:normal;font-style:italic;color:#000;white-space:nowrap;line-height:1;-webkit-text-stroke:0.25px #000">-3.20e+012</div>
<div style="left:141.0px;top:406.8px;font-family:&quot;Liberation Sans&quot;,sans-serif;font-size:5.5px;font-weight:normal;font-style:italic;color:#000;white-space:nowrap;line-height:1;-webkit-text-stroke:0.25px #000">3.20e+012</div>
<div style="left:7.9px;top:425.25px;width:7.1px;height:1px;background:#333"></div>
<div style="left:16.0px;top:417.6px;font-family:&quot;Liberation Serif&quot;,serif;font-size:14px;font-weight:bold;font-style:italic;color:#000;white-space:nowrap;line-height:1;">r</div>
<div style="left:142.8px;top:426.55px;width:7.1px;height:0.95px;background:#333"></div>
<div style="left:145.9px;top:423.5px;width:0.95px;height:7.1px;background:#333"></div>
<div style="left:150.7px;top:420.5px;font-family:&quot;Liberation Serif&quot;,serif;font-size:14px;font-weight:bold;font-style:italic;color:#000;white-space:nowrap;line-height:1;">r</div>
<div style="left:61.0px;top:421.6px;font-family:&quot;Liberation Serif&quot;,serif;font-size:11.8px;font-weight:bold;font-style:normal;color:#000;white-space:nowrap;line-height:1;">direction</div>
<div style="left:80.6px;top:439.4px;font-family:&quot;Liberation Sans&quot;,sans-serif;font-size:13.2px;font-weight:bold;font-style:normal;color:#000;white-space:nowrap;line-height:1;letter-spacing:0.3px">(b)</div>
<div style="left:206.9px;top:248.0px;width:105.6px;height:10.9px;overflow:hidden"><div style="position:absolute;left:0;top:0px;width:105.6px;height:10.9px;background:linear-gradient(to bottom,#5058f0 0px,#3c70ff 1px,#40a8ff 2.5px,#40e0ff 4px,#40f0e0 5.8px,#40f080 6.8px,#e8f040 7.8px,#ffd040 8.6px,#ffb048 9.4px,#ffb048 10.9px)"></div><div style="position:absolute;left:0;top:0px;width:105.6px;height:1.2px;background:linear-gradient(to right,#4c60f4 0px,#4c5cf4 50px,#4a48ee 105.6px)"></div><div style="position:absolute;left:0;top:0;width:105.6px;height:10.9px;background:repeating-linear-gradient(to right, rgba(255,255,255,0) 0px, rgba(255,255,255,0) 2.3px, rgba(255,255,255,0.12) 2.3px, rgba(255,255,255,0.12) 3.3px, rgba(255,255,255,0) 3.3px, rgba(255,255,255,0) 3.97px)"></div></div>
<div style="left:206.9px;top:261.2px;width:105.6px;height:10.9px;overflow:hidden"><div style="position:absolute;left:0;top:0px;width:105.6px;height:10.9px;background:linear-gradient(to bottom,#3070f8 0px,#2c80f8 1.5px,#30b8f8 2.5px,#40f0f8 3.8px,#40f0e0 5.2px,#40f0a0 6px,#50f060 7px,#f0f040 8px,#ffe040 9.2px,#ffd040 10.4px,#ffd040 10.9px)"></div><div style="position:absolute;left:0;top:0;width:105.6px;height:10.9px;background:repeating-linear-gradient(to right, rgba(255,255,255,0) 0px, rgba(255,255,255,0) 2.3px, rgba(255,255,255,0.12) 2.3px, rgba(255,255,255,0.12) 3.3px, rgba(255,255,255,0) 3.3px, rgba(255,255,255,0) 3.97px)"></div></div>
<div style="left:206.9px;top:275.0px;width:105.6px;height:10.9px;overflow:hidden"><div style="position:absolute;left:0;top:0px;width:105.6px;height:10.9px;background:linear-gradient(to bottom,#3090f8 0px,#30b0f8 1.3px,#40e8f8 2.2px,#40f0e8 4px,#40f0b0 4.8px,#40f070 6px,#a0f040 7.2px,#e8f040 8.2px,#f4f040 10.9px)"></div><div style="position:absolute;left:0;top:0;width:105.6px;height:10.9px;background:repeating-linear-gradient(to right, rgba(255,255,255,0) 0px, rgba(255,255,255,0) 2.3px, rgba(255,255,255,0.12) 2.3px, rgba(255,255,255,0.12) 3.3px, rgba(255,255,255,0) 3.3px, rgba(255,255,255,0) 3.97px)"></div></div>
<div style="left:206.9px;top:288.3px;width:105.6px;height:10.9px;overflow:hidden"><div style="position:absolute;left:0;top:0px;width:105.6px;height:10.9px;background:linear-gradient(to bottom,#30b8f8 0px,#30d0f8 1.2px,#40f0f0 2px,#40f0d0 3.4px,#40f0a0 4.2px,#40f070 5.2px,#60f050 6.8px,#b0f040 7.8px,#f0f040 8.8px,#f8f040 10.9px)"></div><div style="position:absolute;left:0;top:0;width:105.6px;height:10.9px;background:repeating-linear-gradient(to right, rgba(255,255,255,0) 0px, rgba(255,255,255,0) 2.3px, rgba(255,255,255,0.12) 2.3px, rgba(255,255,255,0.12) 3.3px, rgba(255,255,255,0) 3.3px, rgba(255,255,255,0) 3.97px)"></div></div>
<div style="left:206.9px;top:302.0px;width:105.6px;height:10.9px;overflow:hidden"><div style="position:absolute;left:0;top:0px;width:105.6px;height:10.9px;background:linear-gradient(to bottom,#40d8f8 0px,#40e8f0 1.5px,#40f0c0 2.5px,#40f090 4px,#50f070 6px,#70f050 7.8px,#c0f040 9.5px,#d0f040 10.9px)"></div><div style="position:absolute;left:0;top:0;width:105.6px;height:10.9px;background:repeating-linear-gradient(to right, rgba(255,255,255,0) 0px, rgba(255,255,255,0) 2.3px, rgba(255,255,255,0.12) 2.3px, rgba(255,255,255,0.12) 3.3px, rgba(255,255,255,0) 3.3px, rgba(255,255,255,0) 3.97px)"></div></div>
<div style="left:206.9px;top:315.2px;width:105.6px;height:10.9px;overflow:hidden"><div style="position:absolute;left:0;top:0px;width:105.6px;height:10.9px;background:linear-gradient(to bottom,#40e0f0 0px,#40e8e8 1.4px,#40f0b0 2.4px,#40f088 3.5px,#50f070 6px,#70f048 7px,#80f040 10.9px)"></div><div style="position:absolute;left:0;top:0;width:105.6px;height:10.9px;background:repeating-linear-gradient(to right, rgba(255,255,255,0) 0px, rgba(255,255,255,0) 2.3px, rgba(255,255,255,0.12) 2.3px, rgba(255,255,255,0.12) 3.3px, rgba(255,255,255,0) 3.3px, rgba(255,255,255,0) 3.97px)"></div></div>
<div style="left:206.9px;top:329.0px;width:105.6px;height:10.9px;overflow:hidden"><div style="position:absolute;left:0;top:0px;width:105.6px;height:10.9px;background:linear-gradient(to bottom,#40e0d8 0px,#40f0b0 1.5px,#40f090 3px,#50f070 5.5px,#60f050 6.5px,#60f048 10.9px)"></div><div style="position:absolute;left:0;top:0;width:105.6px;height:10.9px;background:repeating-linear-gradient(to right, rgba(255,255,255,0) 0px, rgba(255,255,255,0) 2.3px, rgba(255,255,255,0.12) 2.3px, rgba(255,255,255,0.12) 3.3px, rgba(255,255,255,0) 3.3px, rgba(255,255,255,0) 3.97px)"></div></div>
<div style="left:206.9px;top:342.4px;width:105.6px;height:10.9px;overflow:hidden"><div style="position:absolute;left:0;top:0px;width:105.6px;height:10.9px;background:linear-gradient(to bottom,#40f0c0 0px,#40f0b0 1.5px,#70f050 2.7px,#60f060 4.2px,#40f0a0 5px,#60f060 5.8px,#70f050 6.5px,#70f050 8.8px,#40f080 9.8px,#40f0a0 10.9px)"></div><div style="position:absolute;left:0;top:0;width:105.6px;height:10.9px;background:repeating-linear-gradient(to right, rgba(255,255,255,0) 0px, rgba(255,255,255,0) 2.3px, rgba(255,255,255,0.12) 2.3px, rgba(255,255,255,0.12) 3.3px, rgba(255,255,255,0) 3.3px, rgba(255,255,255,0) 3.97px)"></div></div>
<div style="left:206.9px;top:356.2px;width:105.6px;height:10.9px;overflow:hidden"><div style="position:absolute;left:0;top:0px;width:105.6px;height:10.9px;background:linear-gradient(to bottom,#50f090 0px,#70f050 1px,#70f050 3px,#40f0a0 4.5px,#40f0a0 6px,#70f050 7px,#70f050 8.5px,#40f090 9.5px,#40f0a0 10.9px)"></div><div style="position:absolute;left:0;top:0;width:105.6px;height:10.9px;background:repeating-linear-gradient(to right, rgba(255,255,255,0) 0px, rgba(255,255,255,0) 2.3px, rgba(255,255,255,0.12) 2.3px, rgba(255,255,255,0.12) 3.3px, rgba(255,255,255,0) 3.3px, rgba(255,255,255,0) 3.97px)"></div></div>
<div style="left:206.9px;top:369.8px;width:105.6px;height:10.9px;overflow:hidden"><div style="position:absolute;left:0;top:0px;width:105.6px;height:10.9px;background:linear-gradient(to bottom,#60f060 0px,#70f050 0.8px,#70f050 3px,#40f0a0 4.2px,#40f0a0 6px,#70f050 7px,#70f050 8.2px,#40f090 9.2px,#40f090 10.9px)"></div><div style="position:absolute;left:0;top:0;width:105.6px;height:10.9px;background:repeating-linear-gradient(to right, rgba(255,255,255,0) 0px, rgba(255,255,255,0) 2.3px, rgba(255,255,255,0.12) 2.3px, rgba(255,255,255,0.12) 3.3px, rgba(255,255,255,0) 3.3px, rgba(255,255,255,0) 3.97px)"></div></div>
<div style="left:206.9px;top:383.0px;width:105.6px;height:10.9px;overflow:hidden"><div style="position:absolute;left:0;top:0px;width:105.6px;height:10.9px;background:linear-gradient(to bottom,#60f060 0px,#70f050 0.8px,#70f050 3px,#40f0a0 4.2px,#40f0a0 6px,#70f050 7px,#70f050 8.2px,#40f090 9.2px,#40f0a0 10.9px)"></div><div style="position:absolute;left:0;top:0;width:105.6px;height:10.9px;background:repeating-linear-gradient(to right, rgba(255,255,255,0) 0px, rgba(255,255,255,0) 2.3px, rgba(255,255,255,0.12) 2.3px, rgba(255,255,255,0.12) 3.3px, rgba(255,255,255,0) 3.3px, rgba(255,255,255,0) 3.97px)"></div></div>
<div style="left:194px;top:240.4px;width:2px;height:155.6px;background:#808080"></div>
<svg style="left:192.05px;top:236.7px" width="5.9" height="5.100000000000023" viewBox="192.05 236.7 5.9 5.100000000000023"><polygon points="195.0,237.7 196.95,240.8 193.05,240.8" fill="#1e1e1e"/></svg>
<div style="left:194px;top:395px;width:130.5px;height:1px;background:#4a3c4a"></div>
<div style="left:194px;top:396px;width:130.5px;height:1px;background:#a69ea6"></div>
<svg style="left:323.5px;top:392.5px" width="5.5" height="6.2" viewBox="323.5 392.5 5.5 6.2"><polygon points="324.5,393.5 328.0,395.6 324.5,397.70000000000005" fill="#1e1e1e"/></svg>
<svg style="left:198.6px;top:391.7px" width="7" height="9" viewBox="0 0 7 9"><path d="M3.3 0.5 C1.5 0.7 1.3 2.7 2.1 3.9 C2.9 5.1 2.9 7.3 0.9 7.9" fill="none" stroke="#1a1a1a" stroke-width="1.1"/><path d="M3.3 0.5 C1.5 0.7 1.3 2.7 2.1 3.9 C2.9 5.1 2.9 7.3 0.9 7.9" transform="translate(2.7 0)" fill="none" stroke="#1a1a1a" stroke-width="1.1"/></svg>
<div style="left:183.2px;top:389.9px;font-family:&quot;Liberation Serif&quot;,serif;font-size:12.5px;font-weight:bold;font-style:normal;color:#000;white-space:nowrap;line-height:1;transform:scaleX(0.9);transform-origin:0 0">O</div>
<div style="left:198.8px;top:231.6px;font-family:&quot;Liberation Serif&quot;,serif;font-size:14px;font-weight:bold;font-style:italic;color:#000;white-space:nowrap;line-height:1;">z</div>
<div style="left:331.6px;top:388.2px;font-family:&quot;Liberation Serif&quot;,serif;font-size:14px;font-weight:bold;font-style:italic;color:#000;white-space:nowrap;line-height:1;">r</div>
<div style="left:190.4px;top:412.1px;width:138.8px;height:6.6px;background:linear-gradient(to right,#0000ee 0.00px 6.94px,#0070f0 6.94px 13.88px,#00a0f4 13.88px 20.82px,#00c0f6 20.82px 27.76px,#00d8f8 27.76px 34.70px,#00f2f8 34.70px 41.64px,#00f2e0 41.64px 48.58px,#00f0c0 48.58px 55.52px,#00f098 55.52px 62.46px,#00f060 62.46px 69.40px,#20f020 69.40px 76.34px,#80f000 76.34px 83.28px,#b0f000 83.28px 90.22px,#d8f800 90.22px 97.16px,#ffff00 97.16px 104.10px,#ffdc00 104.10px 111.04px,#ffc000 111.04px 117.98px,#ff9c00 117.98px 124.92px,#ff6a00 124.92px 131.86px,#ff0000 131.86px 138.80px)"></div>
<div style="left:227.6px;top:401.0px;font-family:&quot;Liberation Sans&quot;,sans-serif;font-size:5.95px;font-weight:normal;font-style:italic;color:#000;white-space:nowrap;line-height:1;-webkit-text-stroke:0.3px #000">Force density, Fz (N/m3)</div>
<div style="left:252.6px;top:407.4px;font-family:&quot;Liberation Sans&quot;,sans-serif;font-size:5.4px;font-weight:normal;font-style:italic;color:#000;white-space:nowrap;line-height:1;-webkit-text-stroke:0.25px #000">0.000</div>
<div style="left:179.4px;top:406.5px;font-family:&quot;Liberation Sans&quot;,sans-serif;font-size:5.5px;font-weight:normal;font-style:italic;color:#000;white-space:nowrap;line-height:1;-webkit-text-stroke:0.25px #000">-8.30e+011</div>
<div style="left:316.8px;top:407.1px;font-family:&quot;Liberation Sans&quot;,sans-serif;font-size:5.5px;font-weight:normal;font-style:italic;color:#000;white-space:nowrap;line-height:1;-webkit-text-stroke:0.25px #000">8.30e+011</div>
<div style="left:186.0px;top:425.25px;width:7.0px;height:1px;background:#333"></div>
<div style="left:194.6px;top:417.2px;font-family:&quot;Liberation Serif&quot;,serif;font-size:14.5px;font-weight:normal;font-style:italic;color:#000;white-space:nowrap;line-height:1;-webkit-text-stroke:0.35px #000">z</div>
<div style="left:320.8px;top:426.55px;width:7.1px;height:0.95px;background:#333"></div>
<div style="left:323.9px;top:423.5px;width:0.95px;height:7.1px;background:#333"></div>
<div style="left:329.6px;top:418.6px;font-family:&quot;Liberation Serif&quot;,serif;font-size:14.5px;font-weight:normal;font-style:italic;color:#000;white-space:nowrap;line-height:1;-webkit-text-stroke:0.35px #000">z</div>
<div style="left:238.7px;top:421.6px;font-family:&quot;Liberation Serif&quot;,serif;font-size:11.8px;font-weight:bold;font-style:normal;color:#000;white-space:nowrap;line-height:1;">direction</div>
<div style="left:253.2px;top:439.4px;font-family:&quot;Liberation Sans&quot;,sans-serif;font-size:13.2px;font-weight:bold;font-style:normal;color:#000;white-space:nowrap;line-height:1;letter-spacing:0.3px">(c)</div>
</div></body></html>
